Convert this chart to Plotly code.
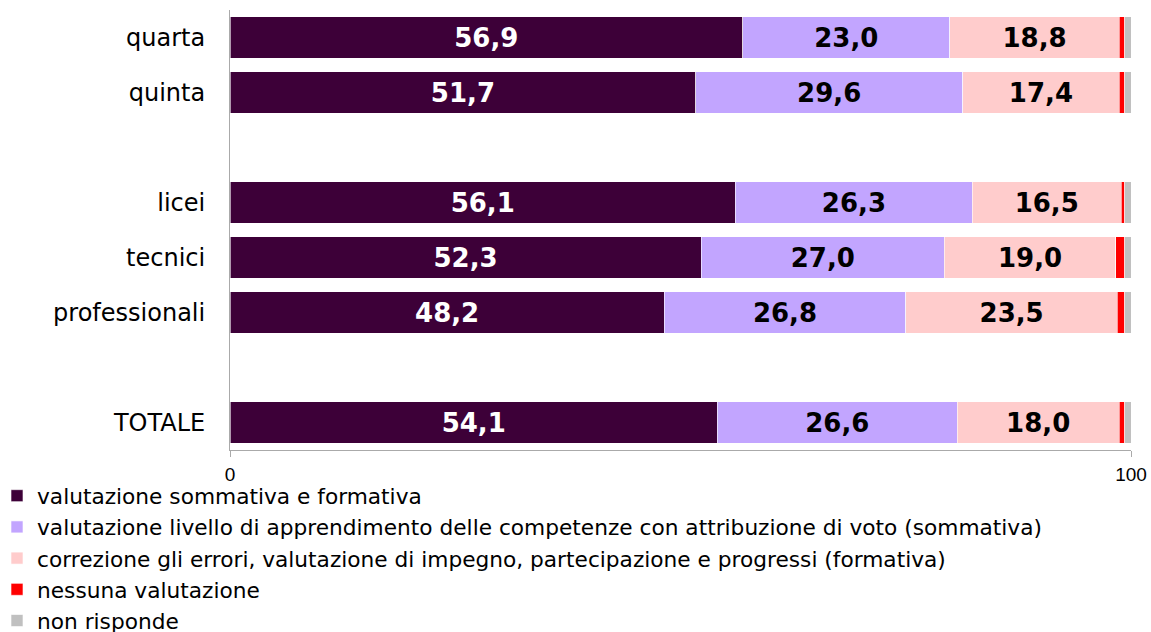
import plotly.graph_objects as go

categories = ["quarta", "quinta", " ", "licei", "tecnici", "professionali", "  ", "TOTALE"]
series_names = [
    "valutazione sommativa e formativa",
    "valutazione livello di apprendimento delle competenze con attribuzione di voto (sommativa)",
    "correzione gli errori, valutazione di impegno, partecipazione e progressi (formativa)",
    "nessuna valutazione",
    "non risponde",
]
sommativa_formativa = [56.9, 51.7, None, 56.1, 52.3, 48.2, None, 54.1]
sommativa = [23.0, 29.6, None, 26.3, 27.0, 26.8, None, 26.6]
formativa = [18.8, 17.4, None, 16.5, 19.0, 23.5, None, 18.0]
nessuna = [0.6, 0.6, None, 0.4, 1.0, 0.8, None, 0.6]
non_risponde = [0.7, 0.7, None, 0.7, 0.7, 0.7, None, 0.7]
x_ticks = [0, 100]

colors = ["#3d0038", "#c2a5ff", "#ffcccc", "#ff0000", "#c0c0c0"]
text_colors = ["white", "black", "black", None, None]
values = [sommativa_formativa, sommativa, formativa, nessuna, non_risponde]

FONT = "DejaVu Sans"

fig = go.Figure()
for i, (name, vals) in enumerate(zip(series_names, values)):
    show_text = text_colors[i] is not None
    fig.add_trace(go.Bar(
        y=categories,
        x=vals,
        name=name,
        orientation="h",
        marker=dict(color=colors[i], line=dict(color="rgba(255,255,255,0.6)", width=1)),
        text=[("%.1f" % v).replace(".", ",") if (v is not None and show_text) else "" for v in vals],
        textposition="inside" if show_text else "none",
        insidetextanchor="middle",
        textangle=0,
        textfont=dict(family=FONT, size=26, color=text_colors[i] or "black", weight="bold"),
        hoverinfo="x+name",
    ))

fig.update_layout(
    barmode="stack",
    bargap=0.24,
    width=1151,
    height=632,
    margin=dict(l=230, r=20, t=10, b=182, autoexpand=False),
    plot_bgcolor="white",
    paper_bgcolor="white",
    uniformtext=dict(minsize=8, mode="show"),
    separators=",.",
    font=dict(family=FONT, color="black"),
    legend=dict(
        orientation="v",
        x=-0.2586, xanchor="left",
        y=-0.057, yanchor="top",
        font=dict(family=FONT, size=21.7, color="black"),
        bgcolor="rgba(0,0,0,0)",
        traceorder="normal",
        itemwidth=30,
        tracegroupgap=0,
    ),
    showlegend=True,
)
fig.update_xaxes(
    range=[0, 100],
    tickvals=x_ticks,
    ticktext=[str(t) for t in x_ticks],
    showgrid=False,
    showline=True,
    linecolor="#aaaaaa",
    linewidth=1,
    ticks="outside",
    ticklen=6,
    tickcolor="#aaaaaa",
    ticklabelstandoff=1,
    tickfont=dict(family="Liberation Sans", size=19, color="black"),
    zeroline=False,
    automargin=False,
)
fig.update_yaxes(
    categoryorder="array",
    categoryarray=categories,
    autorange="reversed",
    showgrid=False,
    showline=True,
    linecolor="#aaaaaa",
    linewidth=1,
    ticks="",
    ticklabelstandoff=19,
    tickfont=dict(family=FONT, size=24, color="black"),
    automargin=False,
)

fig.write_html(
    "out.html",
    config={"displayModeBar": False},
    post_script="document.body.style.margin='0';document.body.style.overflow='hidden';",
)
